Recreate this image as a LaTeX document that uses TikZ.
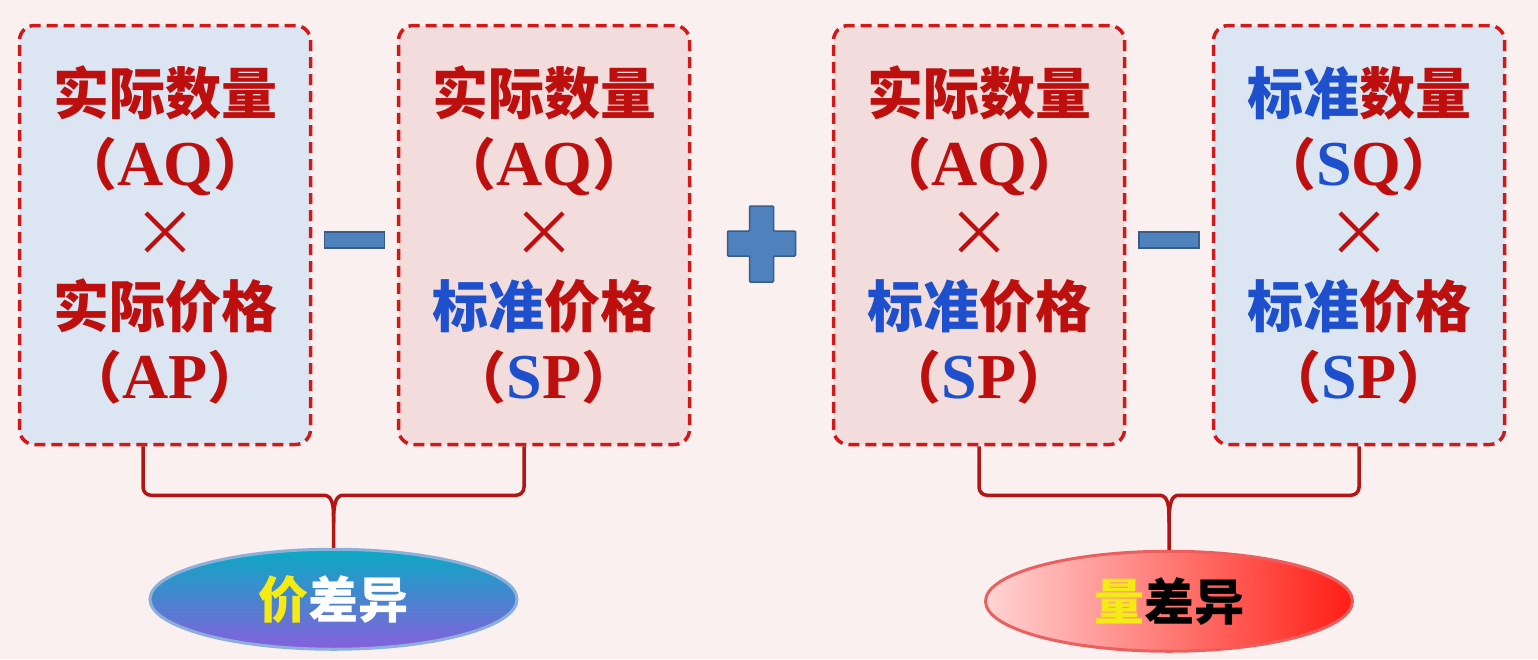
\documentclass[tikz,border=0pt]{standalone}
\usepackage{fontspec}
\setmainfont{Liberation Serif}
\newfontfamily\cjk{Noto Sans CJK SC}
\usetikzlibrary{positioning,shapes.geometric,calc}

\definecolor{bgpink}{RGB}{249,240,239}
\definecolor{boxblue}{RGB}{220,230,242}
\definecolor{boxpink}{RGB}{242,221,220}
\definecolor{dashred}{RGB}{208,25,25}
\definecolor{txtred}{RGB}{190,15,15}
\definecolor{txtblue}{RGB}{30,80,205}
\definecolor{opblue}{RGB}{79,129,189}
\definecolor{opedge}{RGB}{56,93,138}
\definecolor{bracered}{RGB}{180,20,20}
\definecolor{hiyellow}{RGB}{245,235,20}

\newcommand{\rd}[1]{\textcolor{txtred}{#1}}
\newcommand{\bl}[1]{\textcolor{txtblue}{#1}}
\newcommand{\lat}[1]{{\fontsize{64}{71}\selectfont\rmfamily\bfseries #1}}
\newcommand{\tms}{{\fontsize{64}{71}\selectfont\mdseries ×}}

\begin{document}
\begin{tikzpicture}[
  x=1pt, y=-1pt,
  costbox/.style={draw=dashred,line width=3.5pt,dash pattern=on 11pt off 6pt,rounded corners=15pt,
    minimum width=291pt,minimum height=419pt,align=center,inner sep=0pt,
    font=\cjk\bfseries\fontsize{56}{71}\selectfont},
  opsign/.style={fill=opblue,draw=opedge,line width=1.5pt},
  bracket/.style={draw=bracered,line width=3.5pt,rounded corners=8pt},
  variance/.style={ellipse,minimum width=367pt,minimum height=100pt,line width=3pt,inner sep=0pt,
    font=\cjk\bfseries\fontsize{50}{50}\selectfont}
]
\fill[bgpink] (0,0) rectangle (1538,659);
\useasboundingbox (0,0) rectangle (1538,659);

% the four cost boxes
\node[costbox,fill=boxblue] (aqap) at (165,235)
  {\rd{实际数量}\\ \rd{（\lat{AQ}）}\\ \rd{\tms}\\ \rd{实际价格}\\ \rd{（\lat{AP}）}};
\node[costbox,fill=boxpink] (aqsp1) at (544,235)
  {\rd{实际数量}\\ \rd{（\lat{AQ}）}\\ \rd{\tms}\\ \bl{标准}\rd{价格}\\ \rd{（\lat{\bl{S}P}）}};
\node[costbox,fill=boxpink] (aqsp2) at (979,235)
  {\rd{实际数量}\\ \rd{（\lat{AQ}）}\\ \rd{\tms}\\ \bl{标准}\rd{价格}\\ \rd{（\lat{\bl{S}P}）}};
\node[costbox,fill=boxblue] (sqsp) at (1359,235)
  {\bl{标准}\rd{数量}\\ \rd{（\lat{\bl{S}Q}）}\\ \rd{\tms}\\ \bl{标准}\rd{价格}\\ \rd{（\lat{\bl{S}P}）}};

% operators
\node[opsign,minimum width=60pt,minimum height=16pt,inner sep=0pt] (minusa)
  at ($($(aqap.east)!0.5!(aqsp1.west)$)+(0,5)$) {};
\node[opsign,minimum width=60pt,minimum height=16pt,inner sep=0pt] (minusb)
  at ($($(aqsp2.east)!0.5!(sqsp.west)$)+(0,5)$) {};
\coordinate (plus) at ($($(aqsp1.east)!0.5!(aqsp2.west)$)+(0,9)$);
\draw[opsign,rounded corners=1pt] ($(plus)+(-12,-38)$) -- ++(24,0) -- ++(0,25) -- ++(22,0) -- ++(0,25)
  -- ++(-22,0) -- ++(0,26) -- ++(-24,0) -- ++(0,-26) -- ++(-22,0) -- ++(0,-25) -- ++(22,0) -- cycle;

% braces and variance ellipses
\coordinate (pmid) at ($($(aqap.south)+(-22,0)$)!0.5!($(aqsp1.south)+(-20,0)$)+(0,49)$);
\coordinate (qmid) at ($(aqsp2.south)!0.5!(sqsp.south)+(0,49)$);
\node[variance,top color={rgb,255:red,10;green,170;blue,195},middle color={rgb,255:red,45;green,112;blue,200},
  bottom color={rgb,255:red,135;green,95;blue,220},draw={rgb,255:red,140;green,175;blue,220}] (pv)
  at ($(pmid)+(0,104)$) {\textcolor{hiyellow}{价}\textcolor{white}{差异}};
\node[variance,left color={rgb,255:red,255;green,212;blue,212},middle color={rgb,255:red,255;green,85;blue,75},
  right color={rgb,255:red,255;green,30;blue,20},draw={rgb,255:red,235;green,95;blue,95}] (qv)
  at ($(qmid)+(0,106)$) {\textcolor{hiyellow}{量}\textcolor{black}{差异}};

\draw[bracket] ($(aqap.south)+(-22,0)$) |- ($(pmid)+(-18,0)$) .. controls ($(pmid)+(-3,0)$) and ($(pmid)+(0,6)$) .. ($(pmid)+(0,28)$) -- (pv.north);
\draw[bracket] ($(aqsp1.south)+(-20,0)$) |- ($(pmid)+(18,0)$) .. controls ($(pmid)+(3,0)$) and ($(pmid)+(0,6)$) .. ($(pmid)+(0,28)$);
\draw[bracket] (aqsp2.south) |- ($(qmid)+(-18,0)$) .. controls ($(qmid)+(-3,0)$) and ($(qmid)+(0,6)$) .. ($(qmid)+(0,28)$) -- (qv.north);
\draw[bracket] (sqsp.south) |- ($(qmid)+(18,0)$) .. controls ($(qmid)+(3,0)$) and ($(qmid)+(0,6)$) .. ($(qmid)+(0,28)$);
\end{tikzpicture}
\end{document}
